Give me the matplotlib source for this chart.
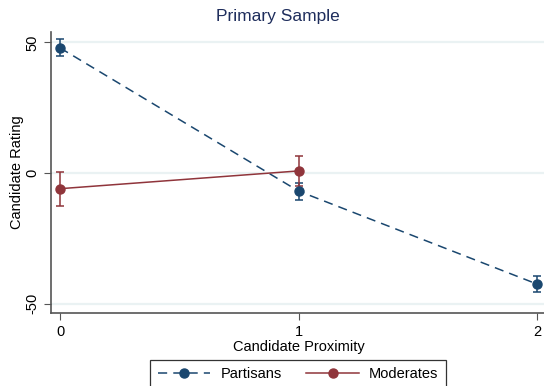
import matplotlib
matplotlib.use("Agg")
import matplotlib.pyplot as plt

# values
proximity = [0, 1, 2]
partisans = [47.9, -6.9, -42.5]
partisans_lo = [44.8, -10.3, -45.7]
partisans_hi = [51.3, -3.7, -39.3]

mod_proximity = [0, 1]
moderates = [-6.0, 0.8]
moderates_lo = [-12.5, -5.0]
moderates_hi = [0.5, 6.5]

yticks = [-50, 0, 50]
xticks = [0, 1, 2]

NAVY = "#1a476f"
MAROON = "#90353b"
TITLE = "#1e2d5c"
GRID = "#eaf2f3"
AXIS = "#555555"

plt.rcParams["font.family"] = ["Liberation Sans", "DejaVu Sans"]

fig = plt.figure(figsize=(5.44, 3.86), dpi=100)
ax = fig.add_axes([51 / 544, 1 - 313 / 386, 495 / 544, 281 / 386])

for y in yticks:
    ax.axhline(y, color=GRID, lw=1.6, zorder=0)

p_err = [[v - lo for v, lo in zip(partisans, partisans_lo)],
         [hi - v for v, hi in zip(partisans, partisans_hi)]]
m_err = [[v - lo for v, lo in zip(moderates, moderates_lo)],
         [hi - v for v, hi in zip(moderates, moderates_hi)]]

ax.errorbar(proximity, partisans, yerr=p_err, fmt="none", ecolor=NAVY,
            elinewidth=1.1, capsize=3, capthick=1.1, zorder=3)
ax.errorbar(mod_proximity, moderates, yerr=m_err, fmt="none", ecolor=MAROON,
            elinewidth=1.1, capsize=3, capthick=1.1, zorder=3)

ax.plot(proximity, partisans, color=NAVY, lw=1.1, dashes=(6, 4),
        marker="o", ms=6.5, label="Partisans", zorder=4)
ax.plot(mod_proximity, moderates, color=MAROON, lw=1.1,
        marker="o", ms=6.5, label="Moderates", zorder=4)

ax.set_xlim(-0.038, 2.038)
ax.set_ylim(-53.6, 54)
ax.set_xticks(xticks)
ax.set_yticks(yticks)
ax.set_yticklabels([str(t) for t in yticks], rotation=90, va="center")
ax.tick_params(direction="out", length=5, color=AXIS, labelsize=10.5)
ax.tick_params(axis="y", pad=3.5)

for s in ["top", "right"]:
    ax.spines[s].set_visible(False)
for s in ["left", "bottom"]:
    ax.spines[s].set_color(AXIS)
    ax.spines[s].set_linewidth(1.2)

ax.set_xlabel("Candidate Proximity", fontsize=10.5, labelpad=1)
ax.set_ylabel("Candidate Rating", fontsize=10.5, labelpad=1)
fig.text(278 / 544, 1 - 17 / 386, "Primary Sample", ha="center", va="center",
         fontsize=12.5, color=TITLE)

leg = fig.legend(loc="upper center", bbox_to_anchor=(298 / 544, 1 - 360 / 386),
                 borderaxespad=0, ncol=2, fontsize=10.5, frameon=True,
                 fancybox=False, edgecolor="black", handlelength=3.6,
                 handletextpad=0.7, numpoints=1, columnspacing=1.7,
                 borderpad=0.5)
leg.get_frame().set_linewidth(0.9)

fig.savefig("out.png", dpi=100)
